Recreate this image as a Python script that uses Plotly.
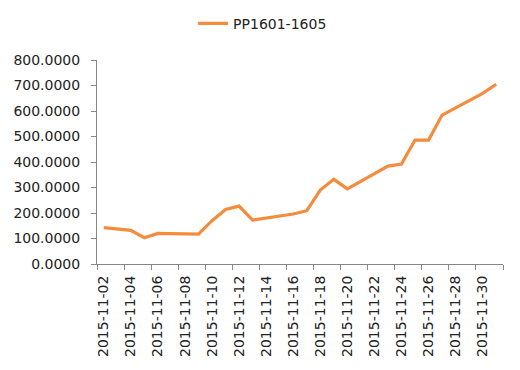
import plotly.graph_objects as go

dates = ["2015-11-02", "2015-11-03", "2015-11-04", "2015-11-05", "2015-11-06",
         "2015-11-09", "2015-11-10", "2015-11-11", "2015-11-12", "2015-11-13",
         "2015-11-16", "2015-11-17", "2015-11-18", "2015-11-19", "2015-11-20",
         "2015-11-23", "2015-11-24", "2015-11-25", "2015-11-26", "2015-11-27",
         "2015-11-30", "2015-12-01"]
values = [143, 136, 132, 103, 120,
          117, 170, 214, 227, 172,
          196, 209, 290, 332, 295,
          384, 392, 486, 486, 584,
          669, 705]
series_name = "PP1601-1605"
tick_labels = ["2015-11-02", "2015-11-04", "2015-11-06", "2015-11-08", "2015-11-10",
               "2015-11-12", "2015-11-14", "2015-11-16", "2015-11-18", "2015-11-20",
               "2015-11-22", "2015-11-24", "2015-11-26", "2015-11-28", "2015-11-30"]

font_family = "DejaVu Sans, sans-serif"
axis_color = "#868686"

fig = go.Figure()
fig.add_trace(go.Scatter(
    x=dates, y=values, mode="lines", name=series_name,
    line=dict(color="#F48C3C", width=3.2),
))

fig.update_layout(
    width=520, height=370,
    margin=dict(l=97, r=17, t=60, b=106, autoexpand=False),
    paper_bgcolor="white", plot_bgcolor="white",
    font=dict(family=font_family, size=14, color="#222222"),
    showlegend=True,
    legend=dict(orientation="h", xref="container", x=0.505, xanchor="center",
                yref="container", y=0.936, yanchor="middle",
                font=dict(size=14, color="#222222")),
)

fig.update_xaxes(
    type="date",
    range=["2015-11-01T12:00", "2015-12-01T12:00"],
    tickmode="array", tickvals=tick_labels, ticktext=tick_labels,
    tickangle=-90, ticks="", showgrid=False,
    showline=True, linecolor=axis_color, linewidth=1,
    minor=dict(ticks="outside", ticklen=5, tickcolor=axis_color,
               tick0="2015-11-01T12:00", dtick=2 * 86400000, showgrid=False),
    tickfont=dict(size=14), ticklabelstandoff=5,
)
fig.update_yaxes(
    range=[0, 800], dtick=100, tickformat=".4f",
    showgrid=False, zeroline=False,
    showline=True, linecolor=axis_color, linewidth=1,
    ticks="outside", ticklen=5, tickcolor=axis_color,
    tickfont=dict(size=14), ticklabelstandoff=8,
)

fig.write_html("out.html", config={"displayModeBar": False},
               post_script="document.body.style.margin='0';")
